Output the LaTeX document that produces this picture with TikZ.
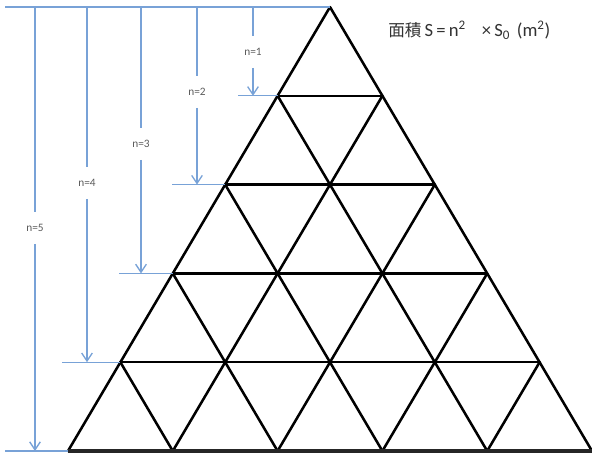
\documentclass[tikz,border=0pt]{standalone}
\usepackage{fontspec}
\setmainfont{Carlito}
\newfontfamily\cjk{Noto Sans CJK SC}
\usetikzlibrary{arrows.meta}
\definecolor{dimblue}{RGB}{120,162,215}
\definecolor{txtgray}{RGB}{50,50,50}
\tikzset{
  grid/.style={line width=1.9pt, black, line cap=round, line join=round},
  dimline/.style={line width=1pt, dimblue},
  dimarrow/.style={dimline, -{Straight Barb[length=6pt,width=8pt,line width=1pt]}},
  dimlabel/.style={font=\fontsize{8.5}{9}\selectfont, text=txtgray!80, inner xsep=1pt, inner ysep=9pt},
}
\begin{document}
\begin{tikzpicture}[x=0.75pt,y=-0.75pt]
\useasboundingbox (0,0) rectangle (592,457);
% vertices of triangular grid
\foreach \k in {0,...,5}{
  \foreach \j in {0,...,\k}{
    \coordinate (P\k-\j) at ({330+(2*\j-\k)*52.4},{7+\k*88.8});
  }
}
% horizontal rows
\foreach \k in {1,...,5}{
  \draw[grid] (P\k-0) -- (P\k-\k);
}
% lines parallel to left edge
\foreach \i in {0,...,4}{
  \draw[grid] (P\i-\i) -- (P5-\i);
}
% lines parallel to right edge
\foreach \i [evaluate=\i as \jj using int(5-\i)] in {0,...,4}{
  \draw[grid] (P\i-0) -- (P5-\jj);
}
\draw[line width=2.4pt, black!85] (P5-0) -- (P5-5);
% dimension lines
\coordinate (T0) at (5,7);
\draw[dimline] (T0) -- (P0-0);
\foreach \n/\xx/\ly/\tick in {1/253/52/238, 2/197/92/172, 3/141/144/119, 4/87/183/62, 5/35/228/5}{
  \coordinate (top\n) at (\xx,7);
  \coordinate (bot\n) at (\xx,{7+\n*88.8});
  \coordinate (tick\n) at (\tick,{7+\n*88.8});
  \node[dimlabel] (lab\n) at (\xx,\ly) {n=\n};
  \draw[dimline] (top\n) -- (lab\n.north);
  \draw[dimarrow] (lab\n.south) -- (bot\n);
  \draw[dimline] (tick\n) -- (P\n-0);
}
% title
\node[font=\fontsize{14}{16}\selectfont, text=txtgray, anchor=west, inner xsep=0pt] (title) at (388,30)
  {{\cjk\fontsize{12.5}{14}\selectfont 面積}\,S\,=\,n\textsuperscript{2}\hspace{12pt}×\,S\textsubscript{0}\hspace{5pt}(m\textsuperscript{2})};
\end{tikzpicture}
\end{document}
